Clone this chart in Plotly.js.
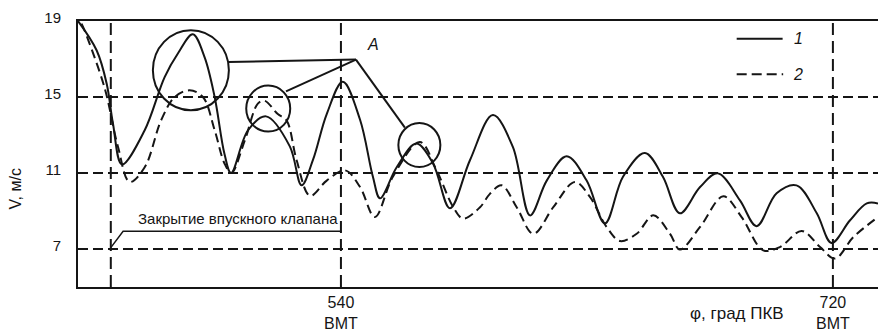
<!DOCTYPE html>
<html>
<head>
<meta charset="utf-8">
<script src="https://cdn.plot.ly/plotly-3.0.1.min.js"></script>
<style>html,body{margin:0;padding:0;background:#fff;}#chart{width:878px;height:332px;}</style>
</head>
<body>
<div id="chart"></div>
<script>
// Crank angle, degrees (φ, град ПКВ) and velocity V, м/с
const angle1 = [443.8, 450.6, 454.3, 456.6, 459.9, 468.2, 475.5, 480.4, 485.8, 490.1, 493.8, 497.4, 499.8, 506.0, 512.6, 521.3, 525.6, 529.8, 534.8, 540.7, 547.0, 551.7, 554.3, 560.4, 567.6, 573.7, 579.9, 587.2, 595.6, 602.9, 609.2, 615.3, 622.6, 629.9, 636.6, 643.2, 651.2, 657.8, 664.0, 671.4, 677.9, 686.0, 692.1, 699.4, 706.7, 714.1, 719.5, 726.2, 732.4, 736.5];
const velocity1 = [19.0, 17.46, 15.7, 13.6, 11.45, 13.25, 16.05, 17.3, 18.3, 17.1, 15.0, 12.0, 11.0, 13.25, 13.98, 12.4, 10.35, 11.7, 14.1, 15.8, 13.8, 10.8, 9.67, 11.3, 12.55, 11.5, 9.14, 11.67, 14.05, 12.37, 8.77, 10.6, 11.88, 10.6, 8.35, 10.8, 12.05, 10.8, 8.88, 10.26, 10.98, 9.56, 8.2, 9.93, 10.35, 8.88, 7.32, 8.5, 9.4, 9.4];

const angle2 = [445.1, 446.2, 453.5, 458.4, 462.7, 468.2, 474.2, 479.2, 484.6, 489.5, 493.8, 497.4, 499.9, 504.8, 509.6, 512.1, 516.9, 520.1, 523.8, 528.7, 534.8, 541.5, 547.0, 552.4, 559.0, 568.9, 575.0, 581.1, 584.7, 590.9, 594.5, 598.8, 604.3, 610.4, 617.7, 625.6, 631.1, 637.2, 642.1, 648.2, 654.3, 660.4, 664.0, 671.4, 679.9, 686.6, 694.5, 700.6, 708.6, 715.3, 720.8, 727.5, 736.5];
const velocity2 = [18.86, 18.5, 15.5, 12.4, 10.53, 11.3, 13.77, 15.0, 15.35, 15.0, 13.25, 11.5, 11.0, 12.7, 14.65, 14.8, 14.1, 13.77, 11.67, 9.8, 10.6, 11.14, 10.26, 8.68, 10.8, 12.63, 11.14, 9.2, 8.6, 9.2, 9.9, 10.35, 9.2, 7.8, 9.2, 10.53, 9.74, 8.16, 7.42, 7.8, 8.77, 7.8, 6.97, 8.16, 9.77, 8.68, 6.93, 7.1, 7.95, 7.1, 6.5, 7.63, 8.68];

const seriesNames = ['1', '2'];
const xTickVals = [540, 720];
const xTickText = ['540<br>ВМТ', '720<br>ВМТ'];
const yTickVals = [7, 11, 15, 19];
const yTickText = ['7', '11', '15', '19'];
const hGrid = [7, 11, 15];
const vGrid = [455.8, 540, 720];

const INK = '#151515';
const FONT = 'Liberation Sans, Arial, Helvetica, sans-serif';

const traces = [
  {x: angle1, y: velocity1, name: seriesNames[0], mode: 'lines', type: 'scatter',
   line: {color: INK, width: 2, shape: 'spline', smoothing: 1}, showlegend: false, cliponaxis: true},
  {x: angle2, y: velocity2, name: seriesNames[1], mode: 'lines', type: 'scatter',
   line: {color: INK, width: 2, dash: '9px,5px', shape: 'spline', smoothing: 1}, showlegend: false, cliponaxis: true}
];

const shapes = [];
hGrid.forEach(v => shapes.push({type: 'line', xref: 'paper', yref: 'y', x0: 0, x1: 1, y0: v, y1: v,
  line: {color: INK, width: 2, dash: '10px,5px'}, layer: 'below'}));
vGrid.forEach(v => shapes.push({type: 'line', xref: 'x', yref: 'paper', x0: v, x1: v, y0: 0, y1: 1,
  line: {color: INK, width: 2, dash: '12px,6px'}, layer: 'below'}));

// highlight circles
const circles = [[485.1, 16.41, 38, 40], [513.4, 14.39, 22, 23], [568.7, 12.47, 21, 22]];
circles.forEach(c => shapes.push({type: 'circle', xref: 'x', yref: 'y', xsizemode: 'pixel', ysizemode: 'pixel',
  xanchor: c[0], yanchor: c[1], x0: -c[2], x1: c[2], y0: -c[3], y1: c[3],
  line: {color: INK, width: 2}}));
// leader lines to "A"
const leaders = [[498.8, 16.84], [519.9, 15.30], [563.4, 13.39]];
leaders.forEach(p => shapes.push({type: 'line', xref: 'x', yref: 'y', x0: p[0], y0: p[1], x1: 545.5, y1: 16.97,
  line: {color: INK, width: 2}}));
// valve closing leader
shapes.push({type: 'path', xref: 'x', yref: 'y', path: 'M455.8,7.07 L460.3,7.93 L540.3,7.93',
  line: {color: INK, width: 1.5}});
// legend samples
shapes.push({type: 'line', xref: 'x', yref: 'y', x0: 684.8, x1: 701.6, y0: 18.07, y1: 18.07, line: {color: INK, width: 2}});
shapes.push({type: 'line', xref: 'x', yref: 'y', x0: 684.8, x1: 701.8, y0: 16.2, y1: 16.2, line: {color: INK, width: 2, dash: '10px,5px'}});

const annotations = [
  {text: 'V, м/с', xref: 'paper', yref: 'paper', x: -0.0775, y: 0.37, textangle: -90, showarrow: false,
   xanchor: 'center', yanchor: 'middle', font: {size: 16, color: INK, family: FONT}},
  {text: 'φ, град ПКВ', xref: 'paper', yref: 'paper', x: 0.8235, y: -0.098, showarrow: false,
   xanchor: 'center', yanchor: 'middle', font: {size: 17, color: INK, family: FONT}},
  {text: 'Закрытие впускного клапана', xref: 'x', yref: 'y', x: 465.0, y: 8.62, showarrow: false,
   xanchor: 'left', yanchor: 'middle', font: {size: 15, color: INK, family: FONT}},
  {text: '<i>A</i>', xref: 'x', yref: 'y', x: 551.6, y: 17.76, showarrow: false,
   xanchor: 'center', yanchor: 'middle', font: {size: 16, color: INK, family: FONT}},
  {text: '<i>' + seriesNames[0] + '</i>', xref: 'x', yref: 'y', x: 707.3, y: 18.1, showarrow: false,
   xanchor: 'center', yanchor: 'middle', font: {size: 16, color: INK, family: FONT}},
  {text: '<i>' + seriesNames[1] + '</i>', xref: 'x', yref: 'y', x: 707.3, y: 16.2, showarrow: false,
   xanchor: 'center', yanchor: 'middle', font: {size: 16, color: INK, family: FONT}}
];

const layout = {
  width: 878, height: 332,
  margin: {l: 78, r: 0, t: 21, b: 45, pad: 0},
  paper_bgcolor: '#fff', plot_bgcolor: '#fff',
  font: {family: FONT, color: INK},
  xaxis: {range: [443.8, 736.5], showgrid: false, zeroline: false, showline: true, mirror: true,
    linewidth: 2, linecolor: INK, tickvals: xTickVals, ticktext: xTickText, ticks: '',
    tickfont: {size: 16, family: FONT, color: INK}, ticklabelstandoff: 0, fixedrange: true},
  yaxis: {range: [5, 19], showgrid: false, zeroline: false, showline: true, mirror: false,
    linewidth: 2, linecolor: INK, tickvals: yTickVals, ticktext: yTickText, ticks: '',
    tickfont: {size: 15, family: FONT, color: INK}, ticklabelstandoff: 12, ticklabelshift: -3, fixedrange: true},
  shapes: shapes,
  annotations: annotations,
  showlegend: false
};

Plotly.newPlot('chart', traces, layout, {displayModeBar: false, staticPlot: true});
</script>
</body>
</html>
